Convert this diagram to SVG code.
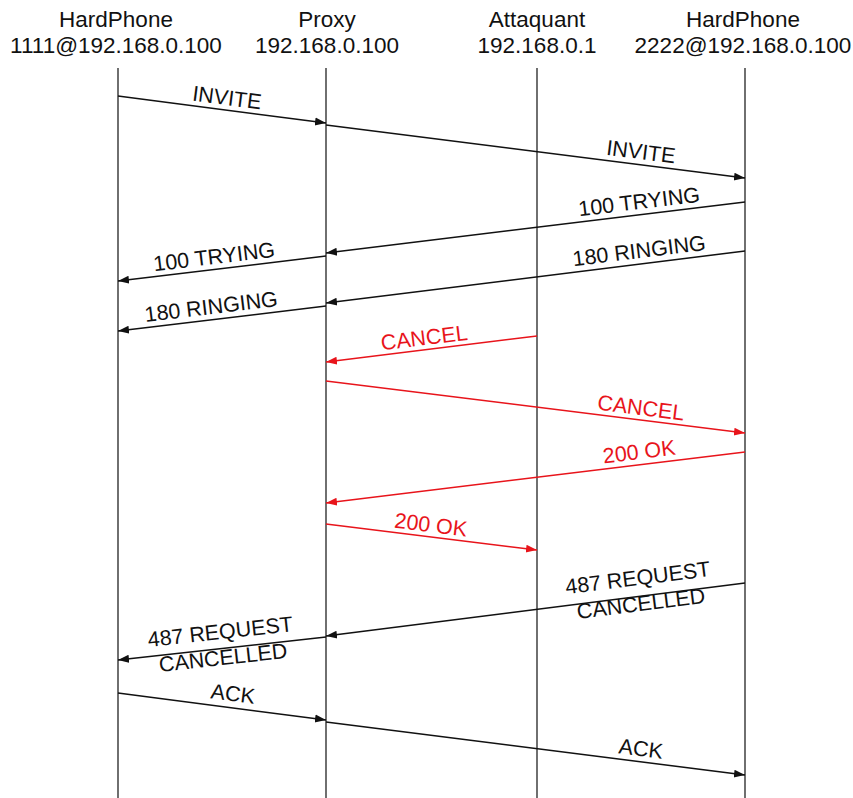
<svg xmlns="http://www.w3.org/2000/svg" width="853" height="798" viewBox="0 0 853 798">
<style>
.hdr{font-family:"Liberation Sans",Arial,sans-serif;font-size:22.5px;fill:#111;text-anchor:middle}
.lbl{font-family:"Liberation Sans",Arial,sans-serif;font-size:21.5px;fill:#111;text-anchor:middle}
.red{fill:#e8141b}
.life{stroke:#222;stroke-width:1.3;fill:none}
.msg{stroke:#111;stroke-width:1.5;fill:none;marker-end:url(#ah)}
.msgr{stroke:#e8141b;stroke-width:1.5;fill:none;marker-end:url(#ahr)}
</style>
<defs>
<marker id="ah" markerUnits="userSpaceOnUse" markerWidth="12" markerHeight="10" refX="11" refY="5" orient="auto"><path d="M0,1 L11,5 L0,9 Z" fill="#111"/></marker>
<marker id="ahr" markerUnits="userSpaceOnUse" markerWidth="12" markerHeight="10" refX="11" refY="5" orient="auto"><path d="M0,1 L11,5 L0,9 Z" fill="#e8141b"/></marker>
</defs>
<rect width="853" height="798" fill="#fff"/>
<g id="hp1">
<text class="hdr" x="116" y="27">HardPhone</text>
<text class="hdr" x="116" y="53">1111@192.168.0.100</text>
<line class="life" x1="118" y1="68" x2="118" y2="798"/>
</g>
<g id="proxy">
<text class="hdr" x="327" y="27">Proxy</text>
<text class="hdr" x="327" y="53">192.168.0.100</text>
<line class="life" x1="326" y1="68" x2="326" y2="798"/>
</g>
<g id="attaquant">
<text class="hdr" x="537" y="27">Attaquant</text>
<text class="hdr" x="537" y="53">192.168.0.1</text>
<line class="life" x1="537" y1="68" x2="537" y2="798"/>
</g>
<g id="hp2">
<text class="hdr" x="743" y="27">HardPhone</text>
<text class="hdr" x="743" y="53">2222@192.168.0.100</text>
<line class="life" x1="745" y1="68" x2="745" y2="798"/>
</g>
<g id="connectors">
<line class="msg" x1="118" y1="96" x2="326" y2="123"/>
<line class="msg" x1="326" y1="125" x2="745" y2="178"/>
<line class="msg" x1="745" y1="202" x2="326" y2="253"/>
<line class="msg" x1="745" y1="251" x2="326" y2="303"/>
<line class="msg" x1="326" y1="256" x2="118" y2="281"/>
<line class="msg" x1="326" y1="306" x2="118" y2="331"/>
<line class="msgr" x1="537" y1="336" x2="326" y2="362"/>
<line class="msgr" x1="326" y1="381" x2="745" y2="433"/>
<line class="msgr" x1="745" y1="452" x2="326" y2="503"/>
<line class="msgr" x1="326" y1="524" x2="537" y2="550"/>
<line class="msg" x1="745" y1="583" x2="326" y2="636"/>
<line class="msg" x1="326" y1="637" x2="118" y2="660"/>
<line class="msg" x1="118" y1="693" x2="326" y2="720"/>
<line class="msg" x1="326" y1="722" x2="745" y2="775"/>
</g>
<g id="labels">
<text class="lbl" transform="translate(226,105) rotate(7.4)">INVITE</text>
<text class="lbl" transform="translate(640,159) rotate(7.2)">INVITE</text>
<text class="lbl" transform="translate(640,209) rotate(-6.9)">100 TRYING</text>
<text class="lbl" transform="translate(640,258) rotate(-7)">180 RINGING</text>
<text class="lbl" transform="translate(215,264) rotate(-6.9)">100 TRYING</text>
<text class="lbl" transform="translate(212,314) rotate(-6.9)">180 RINGING</text>
<text class="lbl red" transform="translate(425,345) rotate(-7)">CANCEL</text>
<text class="lbl red" transform="translate(640,415) rotate(7.1)">CANCEL</text>
<text class="lbl red" transform="translate(640,459) rotate(-6.9)">200 OK</text>
<text class="lbl red" transform="translate(430,532) rotate(7)">200 OK</text>
<g transform="translate(640,596) rotate(-7.2)">
<text class="lbl" x="0" y="-11">487 REQUEST</text>
<text class="lbl" x="0" y="15">CANCELLED</text>
</g>
<g transform="translate(222,648) rotate(-6.3)">
<text class="lbl" x="0" y="-9">487 REQUEST</text>
<text class="lbl" x="0" y="17">CANCELLED</text>
</g>
<text class="lbl" transform="translate(232,701) rotate(7.4)">ACK</text>
<text class="lbl" transform="translate(640,756) rotate(7.2)">ACK</text>
</g>
</svg>
